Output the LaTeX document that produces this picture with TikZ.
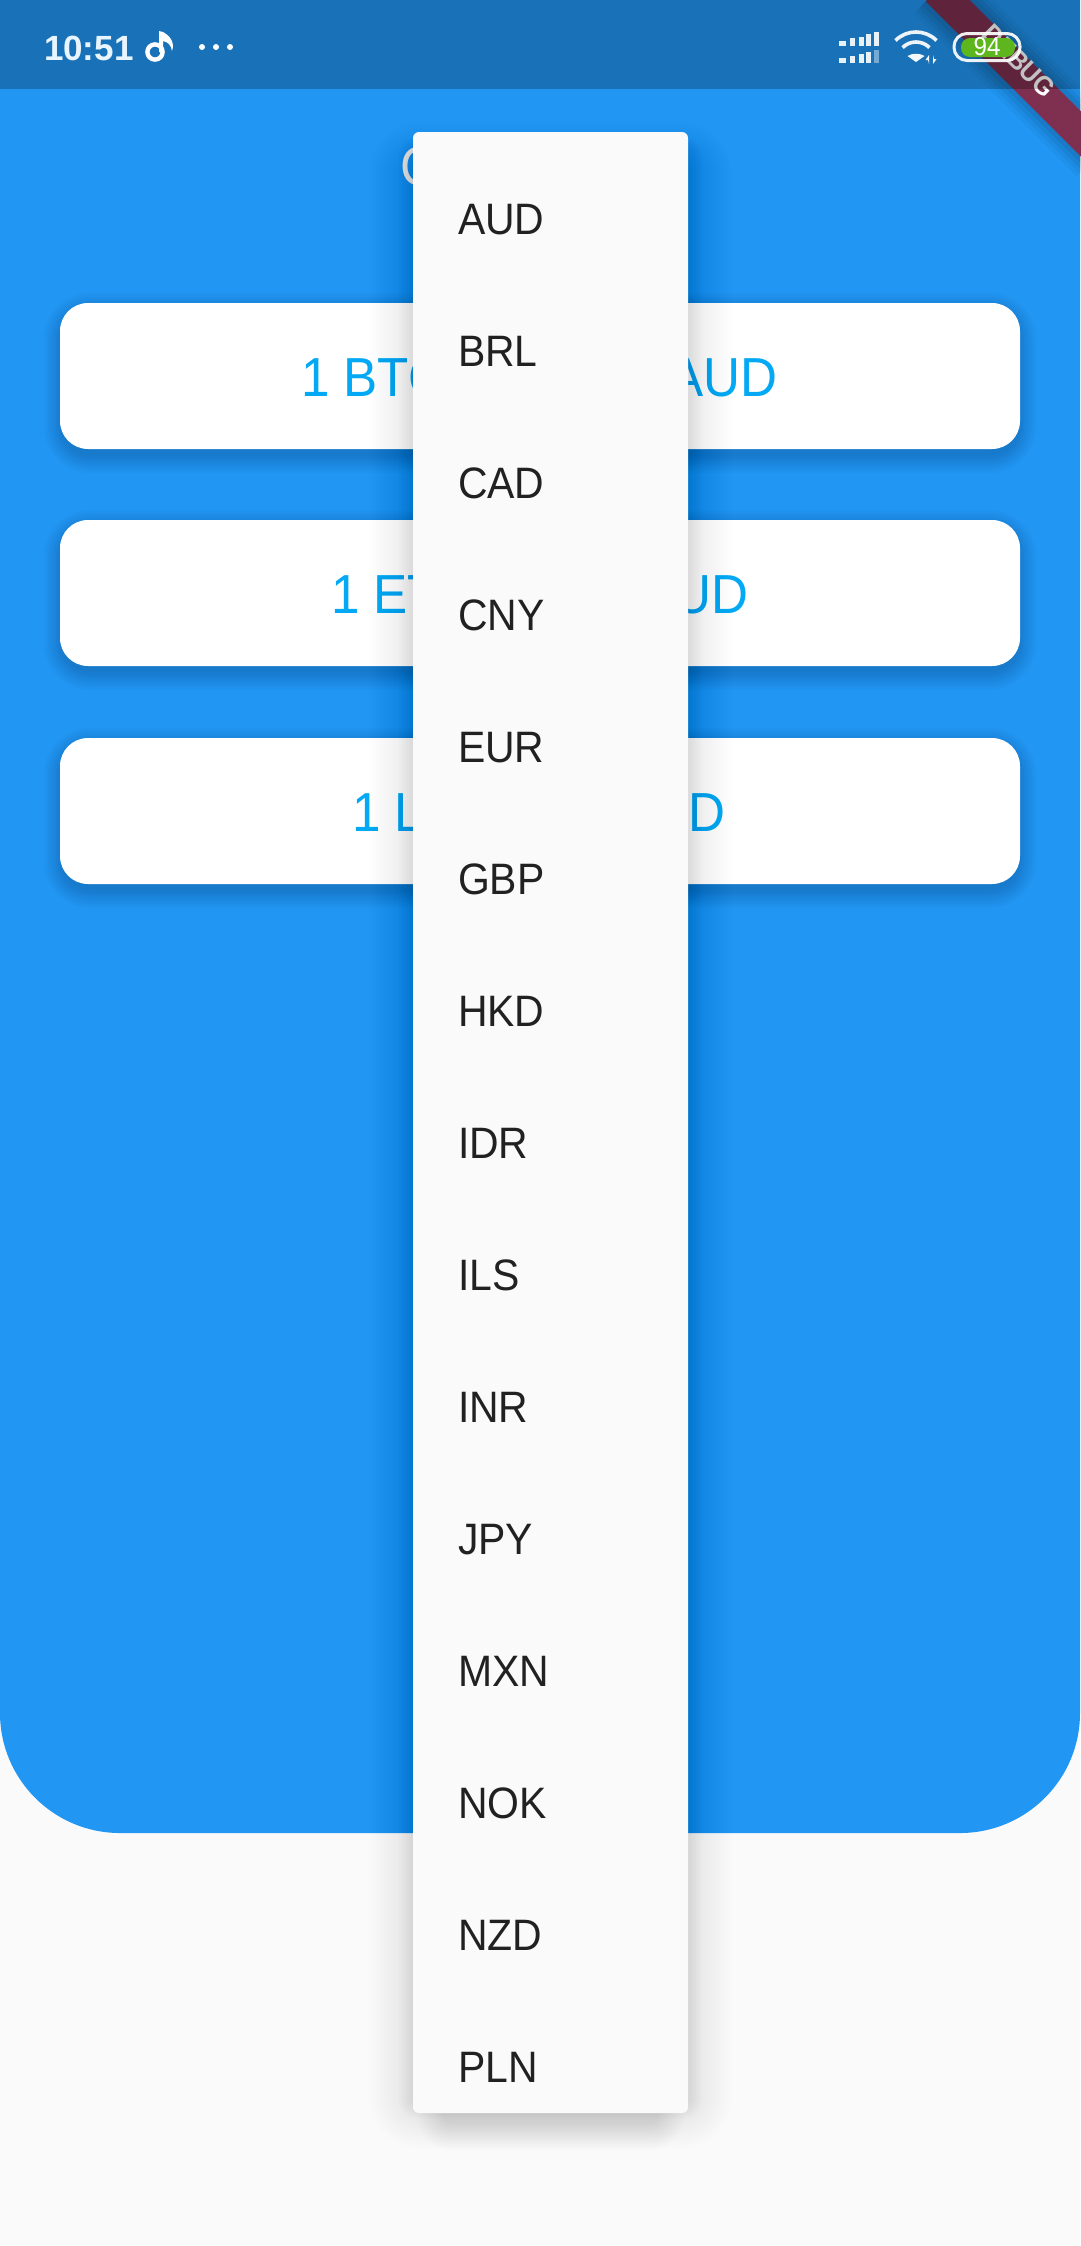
\documentclass[tikz,border=0pt]{standalone}
\usepackage{fontspec}
\setmainfont[FakeStretch=0.93]{Liberation Sans}
\newfontfamily\clockfont{Liberation Sans}
\definecolor{appblue}{HTML}{2196F3}
\definecolor{pagebg}{HTML}{FAFAFA}
\definecolor{itemtext}{HTML}{212121}
\definecolor{cardtext}{HTML}{03A9F4}
\definecolor{bandred}{HTML}{7F2F50}
\definecolor{batgreen}{HTML}{5DB61E}
\newcommand{\softshadow}[8]{% x0 y0 x1 y1 radius spread opacity steps
  \foreach \ss in {1,...,#8}{
    \pgfmathsetmacro{\ssd}{#6*(#8+1-\ss)/#8}
    \pgfmathsetmacro{\ssr}{#5+\ssd}
    \fill[black,fill opacity=#7,rounded corners=\ssr pt]
      ({#1-\ssd},{#2-\ssd}) rectangle ({#3+\ssd},{#4+\ssd});
  }
}
\newcommand{\fsz}[1]{\fontsize{#1}{#1}\selectfont}
\tikzset{
  lbl/.style={inner sep=0pt,outer sep=0pt},
  item/.style={lbl,anchor=base west,text=itemtext,font=\fsz{44}},
  cardl/.style={lbl,anchor=base west,text=cardtext,font=\fsz{55}},
  cardr/.style={lbl,anchor=base east,text=cardtext,font=\fsz{55}},
  wifiarc/.style={draw=white,line width=3.6pt,fill=none,opacity=.92},
  bar/.style={fill=white,opacity=.9},
}
\begin{document}
\begin{tikzpicture}[x=1pt,y=-1pt]
\useasboundingbox (0,0) rectangle (1080,2246);
\fill[pagebg] (0,0) rectangle (1080,2246);
% blue header
\fill[appblue] (0,0) -- (1080,0) -- (1080,1713) arc[start angle=0,end angle=90,radius=120] -- (120,1833) arc[start angle=90,end angle=180,radius=120] -- cycle;
% cards
\foreach \cy in {303,520,738}{
  \softshadow{64}{\cy+10}{1016}{\cy+150}{26}{20}{0.016}{10}
  \fill[white,rounded corners=28pt] (60,\cy) rectangle (1020,\cy+146);
}
\node[cardl] (btcl) at (301,396) {1 BTC};
\node[cardr] (btcr) at (777,396) {AUD};
\node[cardl] (ethl) at (331,613) {1 ETH};
\node[cardr] (ethr) at (748,613) {AUD};
\node[cardl] (ltcl) at (352,831) {1 LTC};
\node[cardr] (ltcr) at (725,831) {AUD};
\node[lbl,anchor=base west,text=white!92!black,font=\fsz{55}] (title) at (400,185) {C};
% debug banner
\foreach \w/\o in {66/.03,58/.04,50/.05,42/.06}{
  \draw[black,line width=\w pt,opacity=\o] (937,-10) -- (1100,153);
}
\draw[bandred,line width=32pt] (937,-10) -- (1100,153);
\node[lbl,rotate=-45,text=white,font=\bfseries\fsz{27}] (debug) at (1019,61) {DEBUG};
% status bar
\fill[black,fill opacity=.24] (0,0) rectangle (1080,89);
\node[lbl,anchor=base west,text=white!90!appblue,font=\clockfont\bfseries\fsz{35}] (clock) at (44,60) {10:51};
\draw[white,line width=4.4pt] (155,52) circle[radius=7.6];
\fill[white] (159,52) -- (159,31) -- (163,32) .. controls (170,36) and (175,42) .. (172,51) .. controls (171,45) and (168,42) .. (163,41) -- (163,52) -- cycle;
\foreach \dx in {202,216,230}{\fill[white] (\dx,47) circle[radius=3];}
% signal
\fill[bar] (839,41) rectangle (845.7,45.5);
\foreach \bx/\tp/\bt in {850/38/45.5,858.5/36.5/45.5,866/34/45.5,874/32/45.5}{
  \fill[bar] (\bx,\tp) rectangle (\bx+5,\bt);
}
\fill[bar] (839,58) rectangle (845.7,62.5);
\foreach \bx/\tp/\bt in {850/56/62.5,858.5/53.5/62.5,866/51.5/62.5}{
  \fill[bar] (\bx,\tp) rectangle (\bx+5,\bt);
}
\fill[white,opacity=.4] (874,49.5) rectangle (879,62.5);
% wifi
\draw[wifiarc] ({916+29*cos(225)},{61+29*sin(225)}) arc[start angle=225,end angle=315,radius=29];
\draw[wifiarc] ({916+19*cos(225)},{61+19*sin(225)}) arc[start angle=225,end angle=315,radius=19];
\fill[white,opacity=.95] (916,62) -- (907.5,56) .. controls (912,53) and (920,53) .. (924.5,56) -- cycle;
\fill[white,opacity=.95] (929,64) -- (929,55) -- (925.5,60) -- (928,60) -- cycle;
\fill[white,opacity=.95] (933,55) -- (933,64) -- (936.5,59) -- (934,59) -- cycle;
% battery
\fill[batgreen,rounded corners=9pt] (961,38) rectangle (1015,57);
\draw[white,line width=3pt,opacity=.92,rounded corners=13pt] (954,33.5) rectangle (1020,60.5);
\node[lbl,text=white,font=\fsz{26}] (bat) at (987,47) {94};
% dropdown
\softshadow{413}{165}{688}{2105}{8}{44}{0.0035}{22}
\softshadow{413}{150}{688}{2105}{6}{14}{0.007}{7}
\softshadow{445}{170}{656}{2122}{6}{28}{0.009}{14}
\fill[pagebg,rounded corners=6pt] (413,132) rectangle (688,2113);
\foreach \nm/\t [count=\i from 0] in {a/AUD,b/BRL,c/CAD,d/CNY,e/EUR,f/GBP,g/HKD,h/IDR,j/ILS,k/INR,l/JPY,m/MXN,n/NOK,o/NZD,p/PLN}{
  \node[item] (it\nm) at (458,234+132*\i) {\t};
}
\end{tikzpicture}
\end{document}
